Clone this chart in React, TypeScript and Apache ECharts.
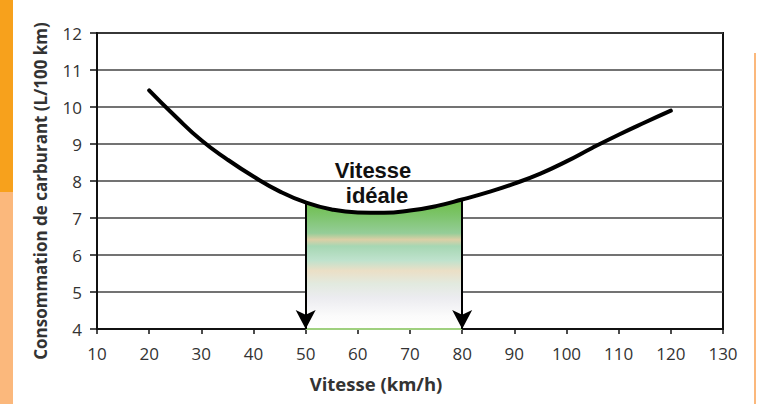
import React, { useEffect, useRef } from "react";
import * as echarts from "echarts";

const speeds = [20, 25, 30, 35, 40, 45, 50, 55, 60, 65, 70, 75, 80, 85, 90, 95, 100, 105, 110, 115, 120];
const consumption = [10.45, 9.75, 9.1, 8.58, 8.12, 7.72, 7.42, 7.23, 7.15, 7.14, 7.2, 7.32, 7.5, 7.7, 7.93, 8.2, 8.53, 8.9, 9.25, 9.58, 9.9];
const idealRange = [50, 80];
const xTicks = { min: 10, max: 130, interval: 10 };
const yTicks = { min: 4, max: 12, interval: 1 };
const xTitle = "Vitesse (km/h)";
const yTitle = "Consommation de carburant (L/100 km)";
const annotation = ["Vitesse", "idéale"];

const FONT = "'Open Sans', 'DejaVu Sans', sans-serif";

export default function App() {
  const ref = useRef<HTMLDivElement>(null);
  useEffect(() => {
    document.body.style.margin = "0";
    const chart = echarts.init(ref.current!, null, { renderer: "svg" });
    const curve = speeds.map((s, i) => [s, consumption[i]]);
    const fill = curve.filter(([s]) => s >= idealRange[0] && s <= idealRange[1]);
    const valAt = (s: number) => consumption[speeds.indexOf(s)];
    chart.setOption({
      animation: false,
      backgroundColor: "#ffffff",
      grid: {
        left: 97,
        right: 34,
        top: 33,
        bottom: 75,
        show: true,
        borderColor: "#111",
        borderWidth: 2,
        backgroundColor: "transparent",
      },
      xAxis: {
        type: "value",
        min: xTicks.min,
        max: xTicks.max,
        interval: xTicks.interval,
        axisLine: { show: true, lineStyle: { color: "#111", width: 2 } },
        axisTick: { show: true, length: 5, inside: false, lineStyle: { color: "#111", width: 1.5 } },
        axisLabel: { color: "#333", fontFamily: FONT, fontSize: 17, margin: 16 },
        splitLine: { show: false },
      },
      yAxis: {
        type: "value",
        min: yTicks.min,
        max: yTicks.max,
        interval: yTicks.interval,
        axisLine: { show: true, lineStyle: { color: "#111", width: 2 } },
        axisTick: { show: true, length: 7, lineStyle: { color: "#111", width: 1.5 } },
        axisLabel: { color: "#333", fontFamily: FONT, fontSize: 17, margin: 15 },
        splitLine: { show: true, lineStyle: { color: "#444", width: 1.5 } },
      },
      series: [
        {
          type: "line",
          data: fill,
          smooth: true,
          showSymbol: false,
          silent: true,
          z: 1,
          lineStyle: { width: 0 },
          areaStyle: {
            origin: "start",
            opacity: 1,
            color: new echarts.graphic.LinearGradient(0, 0, 0, 1, [
              { offset: 0, color: "#6dbd45" },
              { offset: 0.12, color: "#7cc46a" },
              { offset: 0.26, color: "#95cd98" },
              { offset: 0.31, color: "#dccfa6" },
              { offset: 0.36, color: "#a6d7b3" },
              { offset: 0.47, color: "#bfe2cd" },
              { offset: 0.55, color: "#ebdfc6" },
              { offset: 0.65, color: "#e2eadf" },
              { offset: 0.76, color: "#ececf0" },
              { offset: 0.9, color: "#fbfbfb" },
              { offset: 1, color: "#ffffff" },
            ]),
          },
          markLine: {
            silent: true,
            symbol: ["none", "arrow"],
            symbolSize: [15, 19],
            label: { show: false },
            lineStyle: { color: "#000", width: 2, type: "solid" },
            data: idealRange.map((s) => [
              { coord: [s, valAt(s)] },
              { coord: [s, yTicks.min] },
            ]),
          },
        },
        {
          type: "line",
          data: idealRange.map((s) => [s, yTicks.min]),
          showSymbol: false,
          silent: true,
          z: 2,
          lineStyle: { color: "#9fd07f", width: 2 },
        },
        {
          type: "line",
          data: curve,
          smooth: true,
          showSymbol: false,
          silent: true,
          z: 3,
          lineStyle: { color: "#000", width: 4, cap: "round" },
        },
      ],
      graphic: [
        { type: "rect", shape: { x: 0, y: 0, width: 13, height: 192 }, style: { fill: "#f7a11c" } },
        { type: "rect", shape: { x: 0, y: 192, width: 13, height: 212 }, style: { fill: "#fbb87c" } },
        { type: "rect", shape: { x: 754, y: 53, width: 2, height: 351 }, style: { fill: "#fbb87c" } },
        {
          type: "text",
          x: 40,
          y: 191,
          rotation: Math.PI / 2,
          style: {
            text: yTitle,
            fill: "#333",
            font: `bold 17px ${FONT}`,
            textAlign: "center",
            textVerticalAlign: "middle",
          },
        },
        {
          type: "text",
          x: 376,
          y: 383,
          style: {
            text: xTitle,
            fill: "#333",
            font: `bold 18.5px ${FONT}`,
            textAlign: "center",
            textVerticalAlign: "middle",
          },
        },
        {
          type: "text",
          x: 373,
          y: 170,
          z: 10,
          style: {
            text: annotation[0],
            fill: "#111",
            font: "bold 22px 'Liberation Sans', Arial, sans-serif",
            textAlign: "center",
            textVerticalAlign: "middle",
          },
        },
        {
          type: "text",
          x: 377,
          y: 195,
          z: 10,
          style: {
            text: annotation[1],
            fill: "#111",
            font: "bold 22px 'Liberation Sans', Arial, sans-serif",
            textAlign: "center",
            textVerticalAlign: "middle",
          },
        },
      ],
    });
    return () => chart.dispose();
  }, []);
  return (
    <div
      ref={ref}
      style={{ position: "absolute", left: 0, top: 0, width: 757, height: 404 }}
    />
  );
}
